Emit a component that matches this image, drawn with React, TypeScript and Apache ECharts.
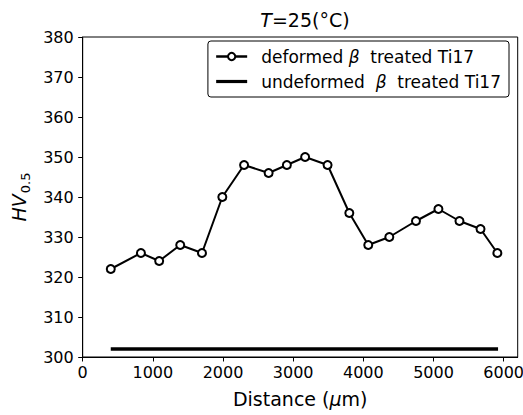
import React, { useEffect, useRef } from "react";
import * as echarts from "echarts";

const distance = [400, 830, 1090, 1390, 1700, 1990, 2300, 2650, 2910, 3170, 3490, 3800, 4070, 4370, 4750, 5070, 5370, 5670, 5910];
const hardness = [322, 326, 324, 328, 326, 340, 348, 346, 348, 350, 348, 336, 328, 330, 334, 337, 334, 332, 326];
const undeformedX = [400, 5920];
const undeformedY = [302, 302];
const xTicks = [0, 1000, 2000, 3000, 4000, 5000, 6000];
const seriesNames = ["deformed", "undeformed"];

const FONT = "DejaVu Sans";

export default function App() {
  const ref = useRef<HTMLDivElement>(null);
  useEffect(() => {
    if (!ref.current) return;
    const chart = echarts.init(ref.current, null, { renderer: "svg" });
    chart.setOption({
      animation: false,
      backgroundColor: "#fff",
      textStyle: { fontFamily: FONT, color: "#000" },
      title: {
        text: "{i|T}{n|=25(°C)}",
        left: 300,
        textAlign: "center",
        top: 5,
        textStyle: {
          fontWeight: "normal",
          rich: {
            i: { fontFamily: FONT, fontSize: 19, fontStyle: "italic", fontWeight: "normal", color: "#000" },
            n: { fontFamily: FONT, fontSize: 19, fontWeight: "normal", color: "#000" },
          },
        },
      },
      legend: {
        orient: "vertical",
        right: 14,
        top: 41,
        padding: [7, 8, 7, 7],
        itemGap: 8,
        itemWidth: 31,
        itemHeight: 9,
        borderColor: "#000",
        borderWidth: 1,
        borderRadius: 3,
        data: [
          { name: seriesNames[0], lineStyle: { width: 2.5 } },
          { name: seriesNames[1], icon: "path://M0,0 H31 V3.2 H0 Z", itemStyle: { color: "#000" } },
        ],
        formatter: (name: string) =>
          name === "deformed"
            ? "{n|deformed }{i|β}{n|  treated Ti17}"
            : "{n|undeformed  }{i|β}{n|  treated Ti17}",
        textStyle: {
          padding: [0, 0, 0, 9],
          rich: {
            n: { fontFamily: FONT, fontSize: 17, color: "#000" },
            i: { fontFamily: FONT, fontSize: 17, fontStyle: "italic", color: "#000" },
          },
        },
      },
      grid: {
        left: 82.7,
        right: 5.3,
        top: 37,
        bottom: 58,
        show: true,
        borderColor: "#000",
        borderWidth: 1,
        containLabel: false,
        outerBoundsMode: "none",
      },
      xAxis: {
        type: "value",
        min: 0,
        max: 6200,
        interval: 1000,
        name: "{n|Distance (}{i|μ}{n|m)}",
        nameLocation: "middle",
        nameGap: 32,
        nameTextStyle: {
          rich: {
            n: { fontFamily: FONT, fontSize: 19, color: "#000" },
            i: { fontFamily: FONT, fontSize: 19, fontStyle: "italic", color: "#000" },
          },
        },
        axisLine: { show: true, lineStyle: { color: "#000", width: 1 } },
        axisTick: { show: true, inside: false, length: 4.5, customValues: xTicks, lineStyle: { color: "#000" } },
        axisLabel: {
          fontFamily: FONT,
          fontSize: 16,
          color: "#000",
          margin: 7,
          customValues: xTicks,
          hideOverlap: false,
          formatter: (v: number) => String(v),
        },
        splitLine: { show: false },
      },
      yAxis: {
        type: "value",
        min: 300,
        max: 380,
        interval: 10,
        name: "{i|HV}{s|0.5}",
        nameLocation: "middle",
        nameRotate: 90,
        nameGap: 50,
        nameTextStyle: {
          rich: {
            i: { fontFamily: FONT, fontSize: 19, fontStyle: "italic", color: "#000", verticalAlign: "bottom" },
            s: { fontFamily: FONT, fontSize: 13, color: "#000", verticalAlign: "bottom", padding: [0, 0, -4, 1] },
          },
        },
        axisLine: { show: true, lineStyle: { color: "#000", width: 1 } },
        axisTick: { show: true, inside: false, length: 4.5, lineStyle: { color: "#000" } },
        axisLabel: { fontFamily: FONT, fontSize: 16, color: "#000", margin: 9, formatter: (v: number) => String(v) },
        splitLine: { show: false },
      },
      series: [
        {
          name: "deformed",
          type: "line",
          data: distance.map((x, i) => [x, hardness[i]]),
          symbol: "circle",
          symbolSize: 8,
          lineStyle: { color: "#000", width: 2 },
          itemStyle: { color: "#fff", borderColor: "#000", borderWidth: 2 },
          z: 3,
        },
        {
          name: "undeformed",
          type: "line",
          data: undeformedX.map((x, i) => [x, undeformedY[i]]),
          symbol: "none",
          lineStyle: { color: "#000", width: 3.3 },
          itemStyle: { color: "#000" },
        },
      ],
    });
    return () => chart.dispose();
  }, []);
  return (
    <div
      ref={ref}
      style={{ position: "fixed", left: 0, top: 0, width: 523, height: 415, background: "#fff" }}
    />
  );
}
